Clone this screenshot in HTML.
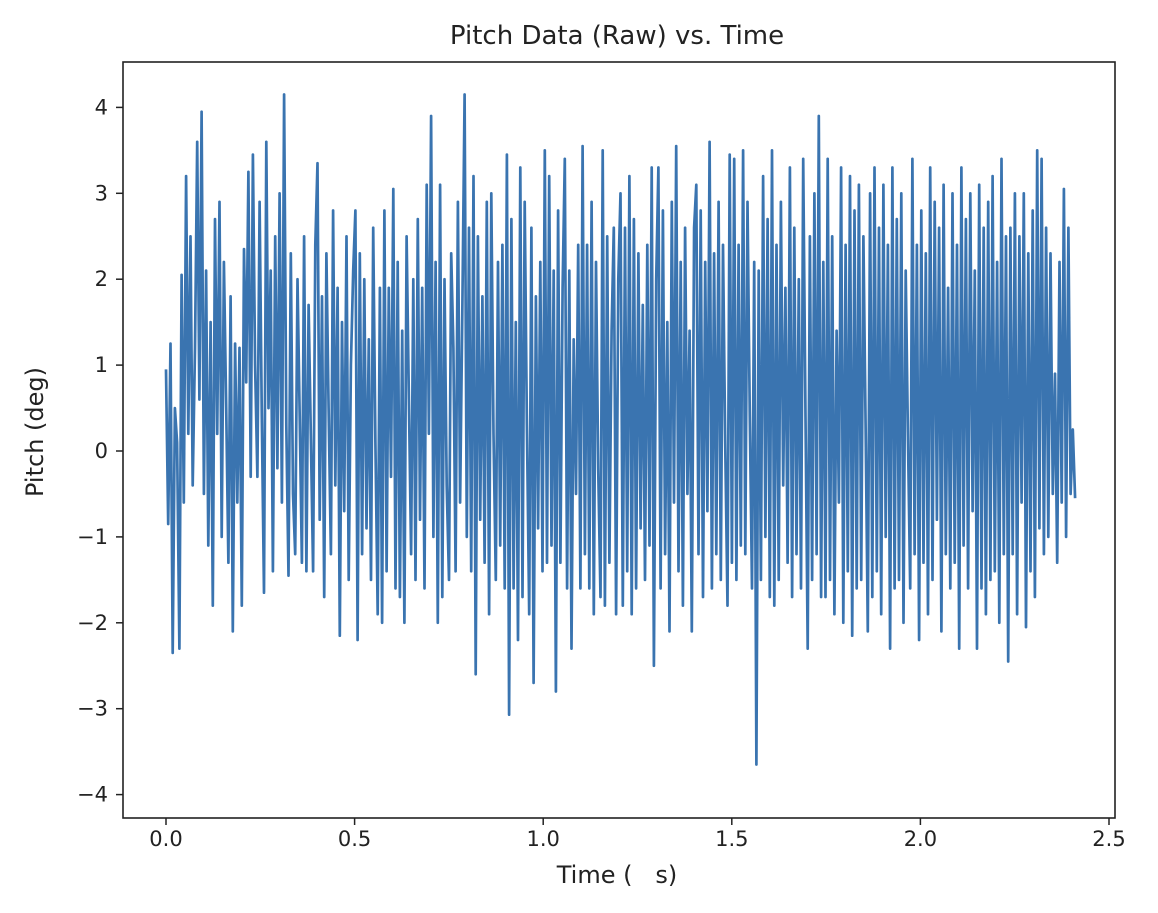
<!DOCTYPE html>
<html><head><meta charset="utf-8"><style>
body{margin:0;background:#fff;}
svg text{font-family:"DejaVu Sans","Liberation Sans",sans-serif;fill:#222;}
</style></head><body>
<svg id="chart" width="1158" height="908" viewBox="0 0 1158 908">
<text x="617" y="44" font-size="26" text-anchor="middle">Pitch Data (Raw) vs. Time</text>
<g id="plot"></g>
<rect x="123" y="62" width="992" height="756" fill="none" stroke="#222" stroke-width="1.6"/>
<text x="617" y="883" font-size="24" text-anchor="middle" xml:space="preserve">Time (   s)</text>
<text transform="translate(43,432) rotate(-90)" font-size="24" text-anchor="middle">Pitch (deg)</text>
</svg>
<script>
const xTicks=[0.0,0.5,1.0,1.5,2.0,2.5];
const xTickLabels=["0.0","0.5","1.0","1.5","2.0","2.5"];
const yTicks=[-4,-3,-2,-1,0,1,2,3,4];
const yTickLabels=["\u22124","\u22123","\u22122","\u22121","0","1","2","3","4"];
const tEnd=2.41;
const pitch=[0.95,-0.85,1.25,-2.35,0.5,0.1,-2.3,2.05,-0.6,3.2,0.2,2.5,-0.4,1.2,3.6,0.6,3.95,
-0.5,2.1,-1.1,1.5,-1.8,2.7,0.2,2.9,-1.0,2.2,0.5,-1.3,1.8,-2.1,1.25,-0.6,1.2,
-1.8,2.35,0.8,3.25,-0.3,3.45,1.0,-0.3,2.9,0.4,-1.65,3.6,0.5,2.1,-1.4,2.5,-0.2,
3.0,-0.6,4.15,0.3,-1.45,2.3,-0.5,-1.2,2.0,0.4,-1.3,2.5,-1.4,1.7,0.2,-1.4,2.4,
3.35,-0.8,1.8,-1.7,2.3,0.5,-1.2,2.8,-0.4,1.9,-2.15,1.5,-0.7,2.5,-1.5,1.0,2.1,
2.8,-2.2,2.3,-1.2,2.0,-0.9,1.3,-1.5,2.6,0.1,-1.9,1.9,-2.0,2.8,-1.4,1.9,-0.3,
3.05,-1.6,2.2,-1.7,1.4,-2.0,2.5,0.6,-1.2,2.0,-1.5,2.7,-0.8,1.9,-1.6,3.1,0.2,
3.9,-1.0,2.2,-2.0,3.1,-1.7,2.0,-0.4,-1.5,2.3,1.2,-1.4,2.9,-0.6,1.6,4.15,-1.0,
2.6,-1.4,3.2,-2.6,2.5,-0.8,1.8,-1.3,2.9,-1.9,3.0,0.2,-1.5,2.2,-1.1,2.4,-1.6,
3.45,-3.07,2.7,-1.6,1.5,-2.2,3.3,-1.7,2.9,0.3,-1.9,2.6,-2.7,1.8,-0.9,2.2,-1.4,
3.5,-1.3,3.2,-1.1,2.1,-2.8,2.8,-1.3,1.9,3.4,-1.6,2.1,-2.3,1.3,-0.5,2.4,-1.6,
3.55,-1.2,2.4,-1.6,2.9,-1.9,2.2,-0.2,-1.7,3.5,-1.8,2.5,-1.3,1.4,2.6,-1.9,2.0,
3.0,-1.8,2.6,-1.4,3.2,-1.9,2.7,-1.6,2.3,-0.9,1.7,-1.5,2.4,-1.1,3.3,-2.5,2.0,
3.3,-1.6,2.8,-1.2,1.5,-2.1,2.9,-0.6,3.55,-1.4,2.2,-1.8,2.6,-0.5,1.4,-2.1,2.6,
3.1,-1.2,2.8,-1.7,2.2,-0.7,3.6,-1.6,2.3,-1.2,2.9,-1.5,2.4,0.1,-1.8,3.45,-1.3,
3.4,-1.5,2.4,-1.1,3.5,-1.2,2.9,0.4,-1.6,2.2,-3.65,2.1,-1.5,3.2,-1.0,2.7,-1.7,
3.5,-1.8,2.4,-1.5,2.9,-0.4,1.9,-1.3,3.3,-1.7,2.6,-1.2,2.0,-1.6,3.4,0.4,-2.3,
2.5,-1.5,3.0,-1.2,3.9,-1.7,2.2,-1.7,3.4,-1.5,2.5,-1.9,1.4,-0.6,3.3,-2.0,2.4,
-1.4,3.2,-2.15,2.8,-1.6,3.1,-1.5,2.5,0.3,-2.1,3.0,-1.7,3.3,-1.4,2.6,-1.9,3.1,
-1.0,2.4,-2.3,3.3,-1.6,2.7,-1.5,3.0,-2.0,2.1,0.2,-1.6,3.4,-1.2,2.4,-2.2,2.8,
-1.3,2.3,-1.9,3.3,-1.5,2.9,-0.8,2.6,-2.1,3.1,-1.2,1.9,-1.6,3.0,-1.3,2.4,-2.3,
3.3,-1.1,2.7,-1.6,3.0,-0.7,2.1,-2.3,3.1,-1.6,2.6,-1.9,2.9,-1.5,3.2,-1.4,2.2,
-2.0,3.4,-1.2,2.5,-2.45,2.6,-1.2,3.0,-1.9,2.5,-0.6,3.0,-2.05,2.3,-1.4,2.8,-1.7,
3.5,-0.9,3.4,-1.2,2.6,-1.0,2.3,-0.5,0.9,-1.3,2.2,-0.6,3.05,-1.0,2.6,-0.5,0.25,-0.55];
const NS="http://www.w3.org/2000/svg";
const X0=166,XS=377.2,Y0=451,YS=85.9;
function sx(t){return X0+t*XS;}
function sy(v){return Y0-v*YS;}
const svg=document.getElementById('chart');
const plot=document.getElementById('plot');
const n=pitch.length;
const pts=pitch.map((v,i)=>sx(i*tEnd/(n-1)).toFixed(1)+","+sy(v).toFixed(1)).join(" ");
const line=document.createElementNS(NS,'polyline');


line.setAttribute('points',pts);
line.setAttribute('fill','none');
line.setAttribute('stroke','#3a74b0');
line.setAttribute('stroke-width','2.7');
line.setAttribute('stroke-linejoin','round');
plot.appendChild(line);
xTicks.forEach((t,i)=>{
  const tk=document.createElementNS(NS,'line');
  
  
  tk.setAttribute('x1',sx(t));tk.setAttribute('x2',sx(t));
  tk.setAttribute('y1',818);tk.setAttribute('y2',825);
  tk.setAttribute('stroke','#222');tk.setAttribute('stroke-width','1.5');
  svg.appendChild(tk);
  const tx=document.createElementNS(NS,'text');
  
  
  tx.setAttribute('x',sx(t));tx.setAttribute('y',846);
  tx.setAttribute('font-size','21');tx.setAttribute('text-anchor','middle');
  tx.textContent=xTickLabels[i];
  svg.appendChild(tx);
});
yTicks.forEach((v,i)=>{
  const tk=document.createElementNS(NS,'line');
  
  
  tk.setAttribute('x1',116);tk.setAttribute('x2',123);
  tk.setAttribute('y1',sy(v));tk.setAttribute('y2',sy(v));
  tk.setAttribute('stroke','#222');tk.setAttribute('stroke-width','1.5');
  svg.appendChild(tk);
  const tx=document.createElementNS(NS,'text');
  
  
  tx.setAttribute('x',108);tx.setAttribute('y',sy(v)+7);
  tx.setAttribute('font-size','21');tx.setAttribute('text-anchor','end');
  tx.textContent=yTickLabels[i];
  svg.appendChild(tx);
});
</script>
</body></html>
